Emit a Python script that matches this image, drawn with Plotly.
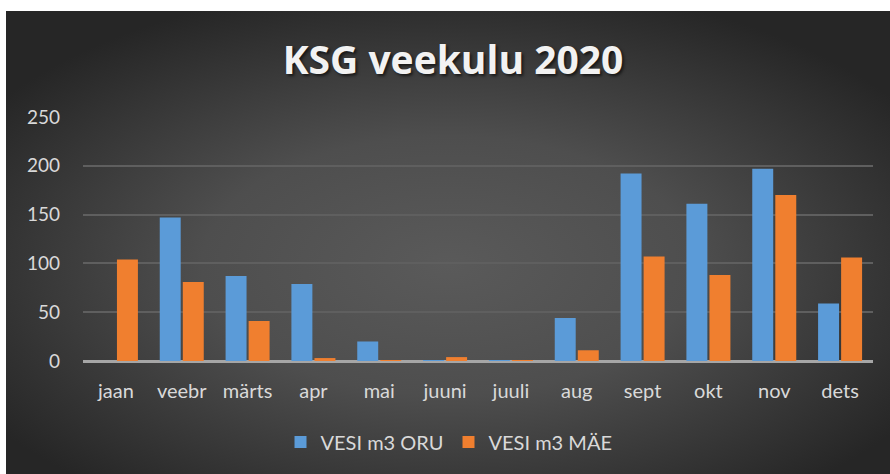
import base64
import plotly.graph_objects as go

months = ["jaan", "veebr", "märts", "apr", "mai", "juuni", "juuli", "aug", "sept", "okt", "nov", "dets"]
oru = [0, 147, 87, 79, 20, 1, 1, 44, 192, 161, 197, 59]
mae = [104, 81, 41, 3, 1, 4, 1, 11, 107, 88, 170, 106]
y_ticks = [0, 50, 100, 150, 200, 250]

W, H = 890, 474
ML, MR, MT, MB = 83, 17, 117, 113
PW, PH = W - ML - MR, H - MT - MB
FONT = "Lato"
TXT = "#d9d9d9"

fig = go.Figure()
fig.add_trace(go.Bar(x=months, y=oru, name="VESI m3 ORU",
                     marker=dict(color="#5b9bd8", line=dict(width=0))))
fig.add_trace(go.Bar(x=months, y=mae, name="VESI m3 MÄE",
                     marker=dict(color="#f07f2f", line=dict(width=0))))

# dark card with a soft radial glow, drawn as an inline SVG background
bg_svg = f"""<svg xmlns='http://www.w3.org/2000/svg' width='{W}' height='{H}' viewBox='0 0 {W} {H}' preserveAspectRatio='none'>
<defs><radialGradient id='g' cx='0.5' cy='0.55' r='0.62' gradientUnits='objectBoundingBox'>
<stop offset='0' stop-color='#5a5a5a'/><stop offset='0.45' stop-color='#4e4e4e'/>
<stop offset='1' stop-color='#262626'/></radialGradient></defs>
<rect x='0' y='0' width='{W}' height='{H}' fill='white'/>
<rect x='6' y='11' width='{W - 6}' height='{H - 11}' fill='url(#g)'/>
</svg>"""
bg_uri = "data:image/svg+xml;base64," + base64.b64encode(bg_svg.encode()).decode()

fig.update_layout(
    width=W, height=H,
    paper_bgcolor="white",
    plot_bgcolor="rgba(0,0,0,0)",
    margin=dict(l=ML, r=MR, t=MT, b=MB),
    images=[dict(source=bg_uri, xref="paper", yref="paper",
                 x=-ML / PW, y=1 + MT / PH, sizex=W / PW, sizey=H / PH,
                 xanchor="left", yanchor="top", sizing="stretch", layer="below")],
    barmode="group", bargap=0.3, bargroupgap=0.09,
    title=dict(text="<b>KSG veekulu 2020</b>", x=0.509, xanchor="center",
               y=1 - 60 / H, yanchor="middle", yref="container",
               font=dict(family="Open Sans", size=39, color="#f2f2f2",
                         shadow="2px 2px 3px rgba(0,0,0,0.6)")),
    font=dict(family=FONT, size=19, color=TXT),
    legend=dict(orientation="h", x=0.4633, xanchor="center", y=0.0675, yanchor="middle",
                yref="container", font=dict(size=20, color=TXT),
                itemwidth=30, traceorder="normal", bgcolor="rgba(0,0,0,0)"),
    showlegend=True,
)
fig.update_xaxes(showgrid=False, showline=False, ticks="", ticklabelstandoff=16,
                 tickfont=dict(size=20, color=TXT))
fig.update_yaxes(range=[0, 250], tickvals=y_ticks, showgrid=True, gridcolor="#5f5f5f",
                 gridwidth=2, zeroline=True, zerolinecolor="#a6a6a6", zerolinewidth=3,
                 showline=False, ticks="", ticklabelstandoff=22,
                 tickfont=dict(size=19, color=TXT))

fig.write_html("out.html")
